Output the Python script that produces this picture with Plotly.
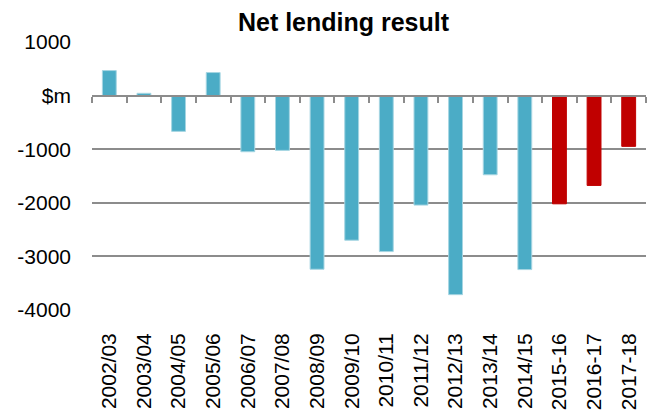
import plotly.graph_objects as go

categories = ["2002/03", "2003/04", "2004/05", "2005/06", "2006/07", "2007/08",
              "2008/09", "2009/10", "2010/11", "2011/12", "2012/13", "2013/14",
              "2014/15", "2015-16", "2016-17", "2017-18"]
values = [467, 43, -667, 430, -1047, -1022, -3240, -2698, -2910, -2043,
          -3714, -1477, -3246, -2019, -1676, -947]
is_forecast = [False] * 13 + [True] * 3
y_tickvals = [-4000, -3000, -2000, -1000, 0, 1000]
y_ticktext = ["-4000", "-3000", "-2000", "-1000", "$m", "1000"]

TEAL = "#4BACC6"
RED = "#C00000"
GRID = "#8C8C8C"
FONT = "Liberation Sans, Arial, sans-serif"

colors = [RED if f else TEAL for f in is_forecast]
line_colors = ["#C00000" if f else "#A5D5E2" for f in is_forecast]

fig = go.Figure()
fig.add_trace(go.Bar(x=categories, y=values, marker=dict(color=colors, line=dict(color=line_colors, width=1)),
                     xaxis="x", yaxis="y", showlegend=False))
# helper trace so the zero-crossing category axis is drawn
fig.add_trace(go.Scatter(x=categories, y=[0] * len(categories), mode="lines",
                         line=dict(width=0, color="rgba(0,0,0,0)"), xaxis="x2", yaxis="y",
                         showlegend=False, hoverinfo="skip"))

y_min, y_max = y_tickvals[0], y_tickvals[-1]
zero_pos = (0 - y_min) / (y_max - y_min)
x_range = [-0.5, len(categories) - 0.5]

fig.update_layout(
    template="none",
    width=655, height=412,
    margin=dict(l=92, r=9, t=42, b=102, autoexpand=False),
    paper_bgcolor="white", plot_bgcolor="white",
    font=dict(family=FONT, size=21, color="black"),
    bargap=0.6,
    title=dict(text="<b>Net lending result</b>", x=343.5 / 655, xanchor="center",
               y=1 - 22 / 412, yanchor="middle", font=dict(size=25, family=FONT, color="black")),
    xaxis=dict(type="category", categoryarray=categories, range=x_range, tickangle=-90, automargin=False,
               showgrid=False, showline=False, ticks="", zeroline=False,
               ticklabelstandoff=18, tickfont=dict(size=21)),
    xaxis2=dict(type="category", categoryarray=categories, range=x_range, overlaying="x",
                anchor="free", position=zero_pos, side="bottom", automargin=False,
                showticklabels=False, showgrid=False, showline=True, linecolor=GRID, linewidth=2,
                ticks="outside", tickson="boundaries", ticklen=6, tickwidth=2, tickcolor=GRID),
    yaxis=dict(range=[y_min, y_max], tickvals=y_tickvals, ticktext=y_ticktext, automargin=False,
               showgrid=True, gridcolor=GRID, gridwidth=2, zeroline=False, showline=False,
               ticks="", ticklabelstandoff=20, tickfont=dict(size=21)),
)

fig.write_html("out.html")
